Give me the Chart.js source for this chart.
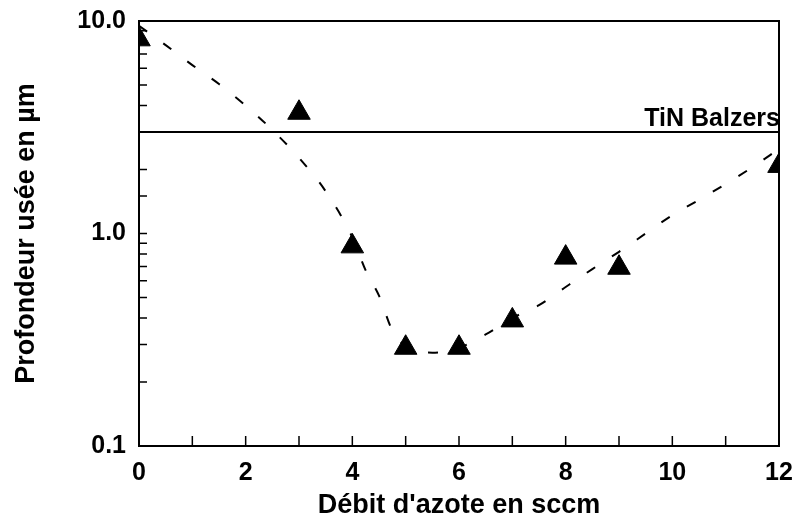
<!DOCTYPE html>
<html>
<head>
<meta charset="utf-8">
<script src="https://cdn.jsdelivr.net/npm/chart.js@4"></script>
<style>
  html, body { margin: 0; padding: 0; background: #fff; }
  #wrap { width: 796px; height: 522px; }
</style>
</head>
<body>
<div id="wrap"><canvas id="chart"></canvas></div>
<script>
// measured wear depth vs nitrogen flow
const flowRates = [0, 3, 4, 5, 6, 7, 8, 9, 12];
const wearDepth = [8.2, 3.7, 0.87, 0.29, 0.29, 0.39, 0.77, 0.69, 2.08];

// dashed trend curve
const fitX = [0, 0.5, 1, 1.5, 2, 2.5, 3, 3.5, 4, 4.25, 4.5, 4.75, 5, 5.5, 6, 6.5, 7, 7.5, 8, 8.5, 9, 9.5, 10, 10.5, 11, 11.5, 12];
const fitY = [9.5, 7.7, 6.2, 5.05, 4.0, 3.07, 2.27, 1.58, 0.96, 0.67, 0.51, 0.35, 0.295, 0.275, 0.29, 0.335, 0.40, 0.46, 0.56, 0.68, 0.82, 1.0, 1.22, 1.44, 1.71, 2.05, 2.5];

// reference level
const refX = [0, 12];
const refY = [3.0, 3.0];
const refLabel = "TiN Balzers";

const yLabels = [0.1, 1, 10];

const FONT = '"Liberation Sans", Arial, sans-serif';

const frame = {
  id: "frame",
  beforeDatasetsDraw(chart) {
    const { ctx, chartArea: a, scales: { x, y } } = chart;
    ctx.save();
    ctx.strokeStyle = "#000";
    ctx.lineWidth = 2;
    ctx.strokeRect(a.left, a.top, a.right - a.left, a.bottom - a.top);
    ctx.lineWidth = 1.5;
    ctx.beginPath();
    x.ticks.forEach((t) => {
      const px = x.getPixelForValue(t.value);
      ctx.moveTo(px, a.bottom);
      ctx.lineTo(px, a.bottom - 10);
    });
    y.ticks.forEach((t) => {
      const py = y.getPixelForValue(t.value);
      ctx.moveTo(a.left, py);
      ctx.lineTo(a.left + 8, py);
    });
    ctx.stroke();
    ctx.restore();
  },
  afterDatasetsDraw(chart) {
    const { ctx, chartArea: a, scales: { y } } = chart;
    ctx.save();
    ctx.fillStyle = "#000";
    ctx.font = "bold 25px " + FONT;
    ctx.textAlign = "right";
    ctx.textBaseline = "alphabetic";
    ctx.fillText(refLabel, a.right + 1, y.getPixelForValue(refY[0]) - 6);
    ctx.restore();
  },
};

new Chart(document.getElementById("chart"), {
  type: "scatter",
  data: {
    datasets: [
      {
        label: "mesures",
        data: flowRates.map((x, i) => ({ x: x, y: wearDepth[i] })),
        pointStyle: "triangle",
        pointRadius: 13,
        backgroundColor: "#000",
        borderColor: "#000",
        borderWidth: 1,
      },
      {
        label: "tendance",
        data: fitX.map((x, i) => ({ x: x, y: fitY[i] })),
        showLine: true,
        pointRadius: 0,
        borderColor: "#000",
        borderWidth: 2,
        borderDash: [10, 20],
        cubicInterpolationMode: "monotone",
      },
      {
        label: refLabel,
        data: refX.map((x, i) => ({ x: x, y: refY[i] })),
        showLine: true,
        pointRadius: 0,
        borderColor: "#000",
        borderWidth: 2,
      },
    ],
  },
  options: {
    responsive: true,
    maintainAspectRatio: false,
    animation: false,
    layout: { padding: { top: 21, right: 17, left: 0, bottom: 0 } },
    plugins: { legend: { display: false }, tooltip: { enabled: false } },
    scales: {
      x: {
        type: "linear",
        min: 0,
        max: 12,
        grid: { display: false, drawTicks: false },
        border: { display: false },
        afterFit: (s) => {
          s.height = 76;
          s.paddingLeft = 0;
          s.paddingRight = 0;
        },
        ticks: {
          stepSize: 1,
          autoSkip: false,
          maxRotation: 0,
          padding: 12,
          color: "#000",
          font: { family: FONT, size: 25, weight: "bold" },
          callback: (v) => (v % 2 === 0 ? v : ""),
        },
        title: {
          display: true,
          text: "Débit d'azote en sccm",
          color: "#000",
          font: { family: FONT, size: 27, weight: "bold" },
          padding: { top: 0, bottom: 0 },
        },
      },
      y: {
        type: "logarithmic",
        min: 0.1,
        max: 10,
        grid: { display: false, drawTicks: false },
        border: { display: false },
        afterFit: (s) => {
          s.width = 139;
          s.paddingTop = 0;
          s.paddingBottom = 0;
        },
        ticks: {
          autoSkip: false,
          padding: 13,
          color: "#000",
          font: { family: FONT, size: 25, weight: "bold" },
          callback: (v) => (yLabels.some((l) => Math.abs(l - v) < 1e-9) ? v.toFixed(1) : ""),
        },
        title: {
          display: true,
          text: "Profondeur usée en µm",
          color: "#000",
          font: { family: FONT, size: 27, weight: "bold" },
          padding: { top: 10, bottom: 0 },
        },
      },
    },
  },
  plugins: [frame],
});
</script>
</body>
</html>
